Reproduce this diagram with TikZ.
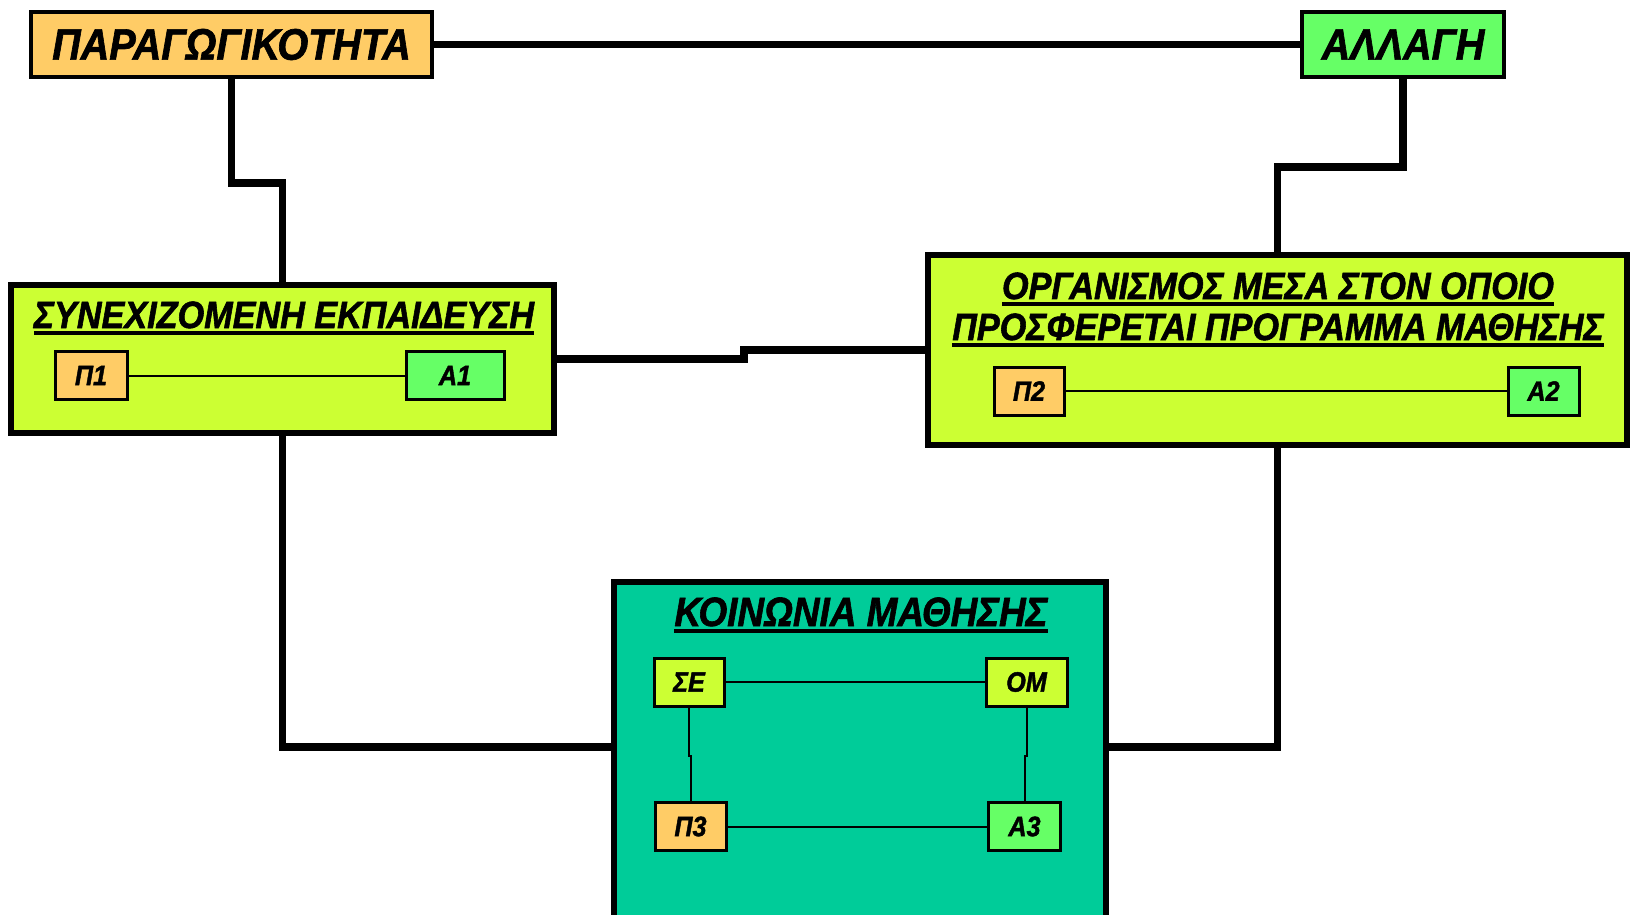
\documentclass[tikz,border=0pt]{standalone}
\usepackage{fontspec}
\setmainfont{Liberation Sans}[FakeStretch=0.9, BoldItalicFeatures={FakeBold=1.5}]
\definecolor{parcol}{HTML}{FFCC66}
\definecolor{allcol}{HTML}{66FF66}
\definecolor{orgcol}{HTML}{CCFF33}
\definecolor{koincol}{HTML}{00CC99}
\newcommand\ulin[1]{\vtop{\hbox{#1}\kern3pt\hrule height 3.5pt}}

\begin{document}
\begin{tikzpicture}[x=1pt,y=-1pt,
	every node/.style={inner sep=0pt},
	topbox/.style={draw, line width=4pt, minimum height=65pt, font=\fontsize{44}{48}\selectfont\bfseries\itshape},
	bigbox/.style={draw, line width=6pt, fill=orgcol},
	ttl/.style={align=center, font=\fontsize{38}{41}\selectfont\bfseries\itshape},
	smallbox/.style={draw, line width=3pt, minimum height=48pt, font=\fontsize{28}{30}\selectfont\bfseries\itshape},
	conn/.style={line width=7.5pt},
	thin/.style={line width=2pt}]
	\useasboundingbox (0,0) rectangle (1633,914);
	\clip (0,0) rectangle (1633,914);
	\node[topbox, fill=parcol, minimum width=401pt] (par) at (231.5,44.5) {ΠΑΡΑΓΩΓΙΚΟΤΗΤΑ};
	\node[topbox, fill=allcol, minimum width=202pt] (all) at (1403,44.5) {ΑΛΛΑΓΗ};
	\node[bigbox, minimum width=543pt, minimum height=148pt] (syn) at (282.5,359) {};
	\node[bigbox, minimum width=699pt, minimum height=190pt] (org) at (1277.5,350) {};
	\node[bigbox, fill=koincol, minimum width=492pt, minimum height=420pt, anchor=north] (koin) at (860,579) {};
	\node[ttl, anchor=base] (synT) at (284,328) {\ulin{ΣΥΝΕΧΙΖΟΜΕΝΗ ΕΚΠΑΙΔΕΥΣΗ}};
	\node[ttl, anchor=base] (orgT) at (1278,340) {\ulin{ΟΡΓΑΝΙΣΜΟΣ ΜΕΣΑ ΣΤΟΝ ΟΠΟΙΟ}\\ \ulin{ΠΡΟΣΦΕΡΕΤΑΙ ΠΡΟΓΡΑΜΜΑ ΜΑΘΗΣΗΣ}};
	\node[ttl, anchor=base, font=\fontsize{41}{44}\selectfont\bfseries\itshape] (koinT) at (861,626) {\ulin{ΚΟΙΝΩΝΙΑ ΜΑΘΗΣΗΣ}};
	\node[smallbox, fill=parcol, minimum width=72pt] (p1) at (91,375.5) {Π1};
	\node[smallbox, fill=allcol, minimum width=98pt] (a1) at (455,375.5) {Α1};
	\node[smallbox, fill=parcol, minimum width=70pt] (p2) at (1029,391) {Π2};
	\node[smallbox, fill=allcol, minimum width=71pt] (a2) at (1543.5,391) {Α2};
	\node[smallbox, fill=orgcol, minimum width=70pt] (se) at (689,682) {ΣΕ};
	\node[smallbox, fill=orgcol, minimum width=81pt] (om) at (1026.5,682) {ΟΜ};
	\node[smallbox, fill=parcol, minimum width=71pt] (p3) at (690.5,826.5) {Π3};
	\node[smallbox, fill=allcol, minimum width=72pt] (a3) at (1024.5,826.5) {Α3};
	\draw[conn] (par.east) -- (all.west);
	\draw[conn] (par.south) -- ++(0,104) -| (syn.north);
	\draw[conn] (all.south) -- ++(0,88) -| (org.north);
	\draw[conn] (syn.east) -- ++(187,0) |- (org.west);
	\draw[conn] (syn.south) |- ([yshift=-168pt]koin.north west);
	\draw[conn] (org.south) |- ([yshift=-168pt]koin.north east);
	\draw[thin] (p1) -- (a1);
	\draw[thin] (p2) -- (a2);
	\draw[thin] (se) -- (om);
	\draw[thin] (p3) -- (a3);
	\draw[thin] (se.south) -- ++(0,48) -| (p3.north);
	\draw[thin] (om.south) -- ++(0,48) -| (a3.north);
\end{tikzpicture}
\end{document}
